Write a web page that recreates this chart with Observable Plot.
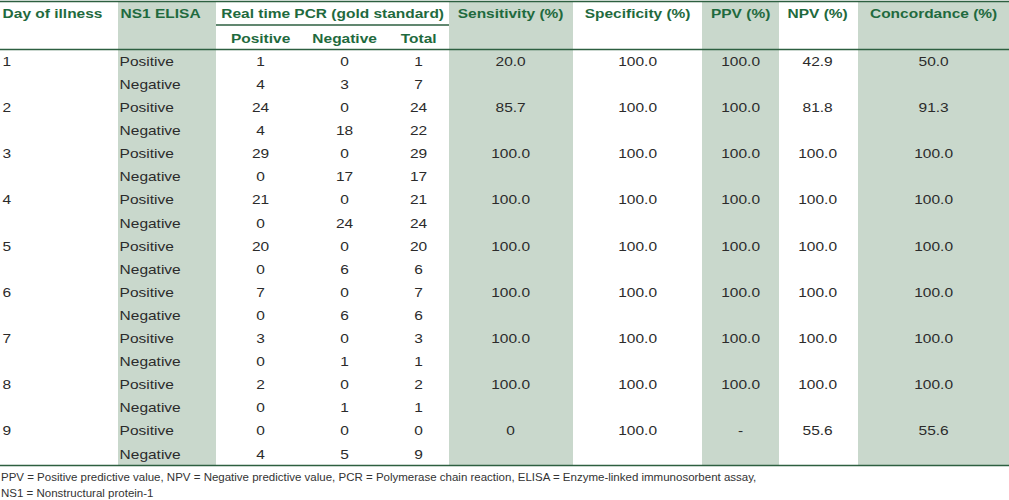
<!DOCTYPE html>
<html><head><meta charset="utf-8">
<script src="https://cdn.jsdelivr.net/npm/d3@7"></script>
<script src="https://cdn.jsdelivr.net/npm/@observablehq/plot@0.6"></script>
<style>
body{margin:0;background:#fff;}
#chart svg{display:block;}
#note{font-family:"Liberation Sans",Arial,sans-serif;font-size:11.5px;line-height:15.5px;color:#333;padding:3px 0 0 1px;white-space:nowrap;}
</style></head><body>
<div id="chart"></div>
<div id="note"></div>
<script>
// ---- data ----
const days = ["1","2","3","4","5","6","7","8","9"];
const ns1Result = ["Positive","Negative"];
const pcrPositive = [1,4,24,4,29,0,21,0,20,0,7,0,3,0,2,0,0,4];
const pcrNegative = [0,3,0,18,0,17,0,24,0,6,0,6,0,1,0,1,0,5];
const pcrTotal    = [1,7,24,22,29,17,21,24,20,6,7,6,3,1,2,1,0,9];
const sensitivity = ["20.0","85.7","100.0","100.0","100.0","100.0","100.0","100.0","0"];
const specificity = ["100.0","100.0","100.0","100.0","100.0","100.0","100.0","100.0","100.0"];
const ppv         = ["100.0","100.0","100.0","100.0","100.0","100.0","100.0","100.0","-"];
const npv         = ["42.9","81.8","100.0","100.0","100.0","100.0","100.0","100.0","55.6"];
const concordance = ["50.0","91.3","100.0","100.0","100.0","100.0","100.0","100.0","55.6"];
const headTop = ["Day of illness","NS1 ELISA","Real time PCR (gold standard)","Sensitivity (%)","Specificity (%)","PPV (%)","NPV (%)","Concordance (%)"];
const headSub = ["Positive","Negative","Total"];
const footnote = ["PPV = Positive predictive value, NPV = Negative predictive value, PCR = Polymerase chain reaction, ELISA = Enzyme-linked immunosorbent assay,",
                  "NS1 = Nonstructural protein-1"];

// ---- layout ----
const REF_W = 1009, W = 814, H = 467;
const ROW0 = 49.8, ROWH = 23.1;
const colX = {day:2, ns1:119, pos:260, neg:344, tot:418, pcr:332, sens:510, spec:637, ppv:740, npv:817, conc:933};
const bands = [{x1:118,x2:216},{x1:449,x2:573},{x1:702,x2:779},{x1:858,x2:1009}];
const GREEN = "#1f6a3e", LINE = "#2d5f40", SHADE = "#c9d8cc", INK = "#2b2b2b";
const FONT = "Liberation Sans, Arial, Helvetica, sans-serif";

const rows = pcrPositive.map((p, i) => {
  const d = Math.floor(i / 2), first = i % 2 === 0;
  return {
    i, ns1: ns1Result[i % 2], pos: String(p), neg: String(pcrNegative[i]), tot: String(pcrTotal[i]),
    day: first ? days[d] : "", sens: first ? sensitivity[d] : "", spec: first ? specificity[d] : "",
    ppv: first ? ppv[d] : "", npv: first ? npv[d] : "", conc: first ? concordance[d] : ""
  };
});
const rowY = d => ROW0 + ROWH * (d.i + 0.5);

const headLeft = [
  {t: headTop[0], x: colX.day},
  {t: headTop[1], x: colX.ns1 + 1}
];
const headMid = [
  {t: headTop[2], x: colX.pcr},
  {t: headTop[3], x: colX.sens},
  {t: headTop[4], x: colX.spec},
  {t: headTop[5], x: colX.ppv},
  {t: headTop[6], x: colX.npv},
  {t: headTop[7], x: colX.conc}
];
const subHead = [
  {t: headSub[0], x: colX.pos}, {t: headSub[1], x: colX.neg}, {t: headSub[2], x: colX.tot}
];

const bodyText = (key, anchor) => Plot.text(rows, {
  x: () => colX[key], y: rowY, text: key, textAnchor: anchor,
  fontSize: 12.5, fill: INK, fontFamily: FONT
});
const headText = (data, y, anchor) => Plot.text(data, {
  x: "x", y: () => y, text: "t", textAnchor: anchor,
  fontSize: 12.5, fontWeight: "bold", fill: GREEN, fontFamily: FONT
});

const chart = Plot.plot({
  width: W, height: H,
  marginTop: 0, marginRight: 0, marginBottom: 0, marginLeft: 0,
  x: {domain: [0, REF_W], range: [0, W], axis: null},
  y: {domain: [0, H], range: [0, H], axis: null},
  style: {fontFamily: FONT, background: "#fff"},
  marks: [
    Plot.rect(bands, {x1: "x1", x2: "x2", y1: () => 1, y2: () => 465, fill: SHADE}),
    Plot.ruleY([1, 49, 465], {stroke: LINE, strokeWidth: 1.6}),
    Plot.ruleY([24.5], {x1: () => 216, x2: () => 449, stroke: LINE, strokeWidth: 1.4}),
    headText(headLeft, 13.5, "start"),
    headText(headMid, 13.5, "middle"),
    headText(subHead, 38, "middle"),
    bodyText("day", "start"),
    bodyText("ns1", "start"),
    bodyText("pos", "middle"),
    bodyText("neg", "middle"),
    bodyText("tot", "middle"),
    bodyText("sens", "middle"),
    bodyText("spec", "middle"),
    bodyText("ppv", "middle"),
    bodyText("npv", "middle"),
    bodyText("conc", "middle")
  ]
});

chart.setAttribute("width", REF_W);
chart.setAttribute("height", H);
chart.setAttribute("viewBox", `0 0 ${W} ${H}`);
chart.setAttribute("preserveAspectRatio", "none");
chart.style.width = REF_W + "px";
chart.style.height = H + "px";
chart.style.maxWidth = "none";
document.getElementById("chart").appendChild(chart);
document.getElementById("note").innerHTML = footnote.join("<br>");
</script>
</body></html>
